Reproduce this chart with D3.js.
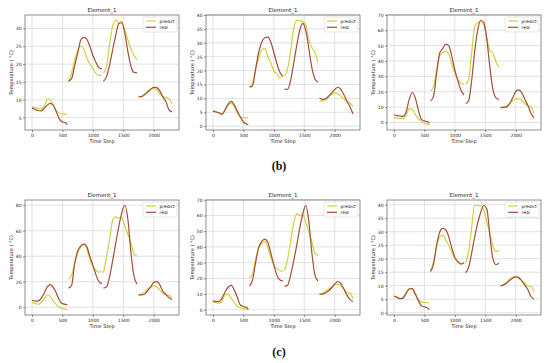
<!DOCTYPE html>
<html><head><meta charset="utf-8">
<script src="https://cdn.jsdelivr.net/npm/d3@7"></script>
<style>body{margin:0;background:#fff}svg{display:block}</style>
</head><body><svg id="c" width="550" height="363"></svg>
<script>
// Time steps of the four recorded segments
const timeSteps = [
  [0,50,100,150,200,250,300,350,400,450,500,550,580],
  [600,650,700,750,800,850,900,950,1000,1050,1100,1150],
  [1175,1225,1275,1325,1375,1425,1475,1525,1575,1625,1675,1725],
  [1750,1800,1850,1900,1950,2000,2050,2100,2150,2200,2250,2300]
];
const xTicks = [0,500,1000,1500,2000];
const seriesNames = ["predict","real"];
const titles = ["Element_1","Element_1","Element_1","Element_1","Element_1","Element_1"];
const rowLabels = ["(b)","(c)"];

// (b) left
const predict1 = [
  [8.0,7.8,7.6,7.5,8.0,10.3,9.9,8.5,7.0,6.3,6.0,6.0,6.0],
  [15.0,17.5,21,23.8,25,24.3,21.7,20,18.8,17.4,16.8,16.9],
  [17.5,19.5,25.5,30.7,32.3,31.6,32.0,29.5,26.8,24.3,22.5,21.2],
  [10.6,11,11.6,12.3,13.1,13.1,12.9,11.7,10.9,10.6,10.3,8.8]
];
const real1 = [
  [7.8,7.3,7.0,6.9,7.6,8.5,9.0,8.4,6.6,4.6,3.8,3.6,3.0],
  [15.3,15.9,19.5,23,26.7,27.5,27.0,25,22.5,20.5,19,18.7],
  [15.2,16.5,19.8,24,28,31.3,31.6,28.7,23.5,19.4,17.7,17.6],
  [11,10.9,11.4,12.2,12.9,13.5,13.4,12.5,10.8,9.5,7.2,6.6]
];
// (b) middle
const predict2 = [
  [5.6,5.2,4.8,4.4,5.8,7.5,8.3,7.0,4.8,3.5,3.0,3.0,3.0],
  [14,15.5,20.5,24.5,27.5,28,25,22.8,19.8,18.8,17.5,18],
  [18,20.5,27,35,38.1,37.9,37.6,36.5,31,28.3,26.5,22.9],
  [8.9,9.2,9.6,10.6,11.5,12,11.6,10.8,9.8,8.8,8.3,7]
];
const real2 = [
  [5.4,5.1,4.8,4.3,6.0,8.0,8.9,7.6,5.4,3.2,1.5,0.8,0.5],
  [14.0,14.5,20.5,26.5,30.2,31.8,32,30.2,26.5,22.5,19.3,18],
  [13.3,13.2,16.5,22.5,29,34.5,37,34.3,27.8,21,17,15.8],
  [10.1,9.6,9.8,10.8,12,13.2,14,13.2,11.3,9,7,4.4]
];
// (b) right
const predict3 = [
  [3.2,2.8,2.5,2.8,4.5,9,8.5,5.3,2.5,0.5,-0.5,-1.2,-1.5],
  [20.5,23.5,34,43,45.5,46.3,44.5,38,32,28,25.5,25],
  [25,27.5,45,62,65,65.5,63.8,55,47,45,39.5,36],
  [9.7,10,10.5,12,14,15.3,15.5,14.5,12.3,10.8,10.1,6]
];
const real3 = [
  [5,4.5,4.2,4,7,15,19.5,16,8,2,1,0.5,-0.5],
  [14,17,32,45,48,51,50,43,34,27,21,18],
  [12.3,14,27,46,60,66.5,65,54,36,21.5,16,15],
  [9.7,9.8,10.1,12.5,16,20,21.2,19.3,15,11,6,3]
];
// (c) left
const predict4 = [
  [4,3,2.4,3.5,6.5,9.8,8.5,5,2,0,-1,-1.5,-2],
  [22,25,34,42,47.5,49.5,46,38,31.5,29,27.5,28],
  [27,40,53,68,70.8,69.8,70.5,63.5,57,51,41.5,40],
  [9.7,10.5,12,14.5,16,16.8,16,13.5,11,10,9.5,7]
];
const real4 = [
  [5.5,5,4.8,7,11,16,17.8,15.5,11,5.5,2.8,2.2,1.8],
  [15,17,34,44,48,49.5,47.5,40,33,25.5,20,18.5],
  [15,16,24,36.5,50,63,74,80,69,43,24.5,18],
  [9.7,9.7,10.2,13,16,19.5,20,17.5,12.5,10,7.5,5.8]
];
// (c) middle
const predict5 = [
  [5,4.5,4.2,5.5,9.5,10,7.2,4.7,2.2,1.1,0.8,0.4,0],
  [20,23,32,39,42,43.5,40,33,28.5,26,25,24.5],
  [25,32,43,55,61,60,60.5,55.5,49.5,43,36,34.5],
  [10,10.7,11.8,13.2,14.5,15.8,16.3,15.2,13.2,11,10.6,7]
];
const real5 = [
  [5.7,5.3,5.2,7.5,11.5,14.5,15.5,12.5,8,3,2.1,1.5,0.5],
  [15,19,30,39.5,43.5,45,43,36,28.5,22,19,18.3],
  [15,15.5,22,31,41,52,61,66.5,56,36,22,18.3],
  [10,10,10.8,12.1,14,16.5,18,16.7,13.2,9.3,6.5,5.3]
];
// (c) right
const predict6 = [
  [6.2,5.8,5.3,5.8,7.5,9,8.8,6.5,5,4,3.8,3.7,3.7],
  [15.5,19,24.5,28,28.7,27,25,22.3,20,19,18.3,18.5],
  [18.3,22.5,31.5,39.8,39.6,39.7,38.2,33.5,29.5,24.5,22.6,23],
  [9.9,10.3,11.2,12.3,13.2,13.4,12.8,11.8,10.8,9.9,9.7,7.8]
];
const real6 = [
  [6.2,5.7,5.2,5.4,7.2,8.8,8.9,7,4.5,2.6,2.2,1.8,1.1],
  [15.2,18,25,29.8,31.2,30.7,28.1,24,20.5,18.8,18,18.5],
  [14.8,16.8,22,28,33.2,37.2,39.7,38.5,28.5,20,17.8,18.3],
  [10,10.3,11,12,12.8,13.3,13,11.8,10.1,8.5,6,5.1]
];

const yTicks1 = [5,10,15,20,25,30];
const yTicks2 = [0,5,10,15,20,25,30,35,40];
const yTicks3 = [0,10,20,30,40,50,60,70];
const yTicks4 = [0,20,40,60,80];
const yTicks5 = [0,10,20,30,40,50,60,70];
const yTicks6 = [0,5,10,15,20,25,30,35,40];

const panels = [
  {predict:predict1, real:real1, yTicks:yTicks1},
  {predict:predict2, real:real2, yTicks:yTicks2},
  {predict:predict3, real:real3, yTicks:yTicks3},
  {predict:predict4, real:real4, yTicks:yTicks4},
  {predict:predict5, real:real5, yTicks:yTicks5},
  {predict:predict6, real:real6, yTicks:yTicks6}
];

const colors = {predict:"#cdd23e", real:"#a34f3a"};
const colX = [25,206,387], rowY = [15,200], W = 154, H = 115;
const FONT = "DejaVu Sans, sans-serif";
const svg = d3.select("#c");

function padded(lo, hi){ const m=(hi-lo)*0.05; return [lo-m, hi+m]; }

panels.forEach((p, i) => {
  const col = i % 3, row = Math.floor(i / 3);
  const g = svg.append("g").attr("transform", `translate(${colX[col]},${rowY[row]})`);
  const allT = timeSteps.flat();
  const allV = p.predict.flat().concat(p.real.flat());
  const x = d3.scaleLinear().domain(padded(d3.min(allT), d3.max(allT))).range([0, W]);
  const y = d3.scaleLinear().domain(padded(d3.min(allV), d3.max(allV))).range([H, 0]);

  // grid
  g.append("g").selectAll("line").data(xTicks).join("line")
    .attr("x1", d=>x(d)).attr("x2", d=>x(d)).attr("y1",0).attr("y2",H)
    .attr("stroke","#d6d6d6").attr("stroke-width",0.7);
  g.append("g").selectAll("line").data(p.yTicks).join("line")
    .attr("x1",0).attr("x2",W).attr("y1", d=>y(d)).attr("y2", d=>y(d))
    .attr("stroke","#d6d6d6").attr("stroke-width",0.7);

  // axes
  const xa = g.append("g").attr("transform",`translate(0,${H})`)
    .call(d3.axisBottom(x).tickValues(xTicks).tickSize(2).tickPadding(1.5).tickFormat(d3.format("d")));
  const ya = g.append("g")
    .call(d3.axisLeft(y).tickValues(p.yTicks).tickSize(2).tickPadding(1.5).tickFormat(d3.format("d")));
  [xa, ya].forEach(a => {
    a.select(".domain").remove();
    a.selectAll("line").attr("stroke","#444").attr("stroke-width",0.6);
    a.selectAll("text").attr("font-family",FONT).attr("font-size",4.5).attr("fill","#222");
  });

  // lines
  seriesNames.forEach(name => {
    const segs = p[name].map((vals, s) => vals.map((v, k) => [timeSteps[s][k], v]));
    const line = d3.line().x(d=>x(d[0])).y(d=>y(d[1])).curve(d3.curveMonotoneX);
    g.append("g").selectAll("path").data(segs).join("path")
      .attr("d", line).attr("fill","none").attr("stroke", colors[name])
      .attr("stroke-width",1.2).attr("stroke-linejoin","round");
  });

  // frame
  g.append("rect").attr("width",W).attr("height",H).attr("fill","none")
    .attr("stroke","#444").attr("stroke-width",0.6);

  // title and labels
  g.append("text").attr("x",W/2).attr("y",-3).attr("text-anchor","middle")
    .attr("font-family",FONT).attr("font-size",5.5).attr("fill","#222").text(titles[i]);
  g.append("text").attr("x",W/2).attr("y",H+13).attr("text-anchor","middle")
    .attr("font-family",FONT).attr("font-size",5).attr("fill","#222").text("Time Step");
  g.append("text").attr("transform",`translate(-14.5,${H/2}) rotate(-90)`)
    .attr("text-anchor","middle").attr("dominant-baseline","central")
    .attr("font-family",FONT).attr("font-size",5).attr("fill","#222").text("Temperature ( °C)");

  // legend
  const lg = g.append("g").attr("transform",`translate(${W-36},2)`);
  lg.append("rect").attr("width",34).attr("height",15).attr("rx",1.5)
    .attr("fill","#fff").attr("fill-opacity",0.85).attr("stroke","#ccc").attr("stroke-width",0.5);
  seriesNames.forEach((name, k) => {
    const yy = 4 + k*6.3;
    lg.append("line").attr("x1",3).attr("x2",13).attr("y1",yy).attr("y2",yy)
      .attr("stroke",colors[name]).attr("stroke-width",1.2);
    lg.append("text").attr("x",16.5).attr("y",yy).attr("dominant-baseline","central")
      .attr("font-family",FONT).attr("font-size",4.4).attr("fill","#222").text(name);
  });
});

// row labels
svg.selectAll("text.rl").data(rowLabels).join("text").attr("class","rl")
  .attr("x",279).attr("y",(d,i)=> i===0 ? 170 : 356).attr("text-anchor","middle")
  .attr("font-family","Liberation Serif, serif").attr("font-weight","bold")
  .attr("font-size",12).attr("fill","#111").text(d=>d);
</script></body></html>
